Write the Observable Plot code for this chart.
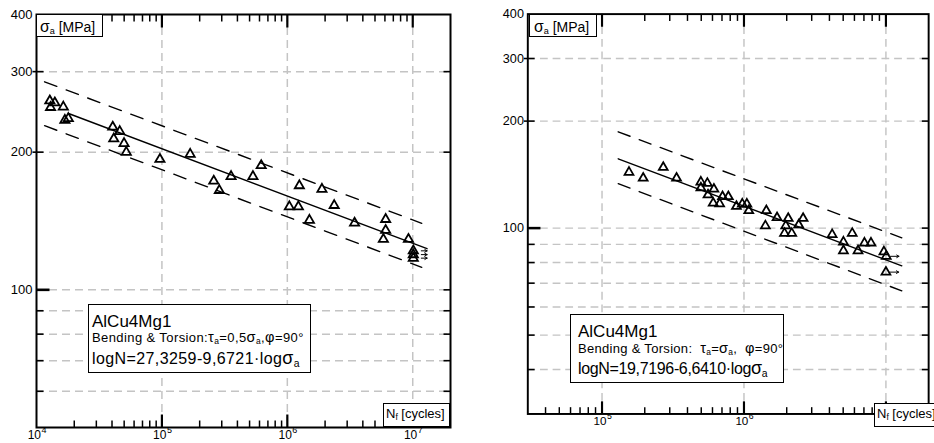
<!DOCTYPE html>
<html><head><meta charset="utf-8">
<script src="https://cdn.jsdelivr.net/npm/d3@7"></script>
<script src="https://cdn.jsdelivr.net/npm/@observablehq/plot@0.6"></script>
<style>
body{margin:0;background:#fff;font-family:Arial,"Liberation Sans",sans-serif;}
#wrap{position:relative;width:934px;height:443px;overflow:hidden;background:#fff;}
.panel{position:absolute;top:0;overflow:hidden;height:443px;line-height:0;}
.box{position:absolute;background:#fff;border:1.5px solid #000;box-sizing:border-box;}
.ln{position:absolute;white-space:nowrap;line-height:1;color:#000;}
sub{font-size:0.65em;vertical-align:-0.25em;line-height:0;}
.gr{font-size:1.12em;}
</style></head><body><div id="wrap"></div>
<script>
// ---------- Left panel: AlCu4Mg1, bending & torsion, tau_a = 0.5 sigma_a ----------
const leftN = [12770,14000,12940,16360,16840,17940,40550,46100,41300,49900,52000,96400,168000,259000,287000,356000,532000,619000,1247000,1038000,1225000,1888000,1500000,2364000,3436000,6080000,6080000,5830000,9240000];
const leftS = [259,256.5,250.6,251.2,235,237,227,222,214,209,200,193,198,173,165,177,177,187,169,152,152,166,142,153,140,142.6,135,129,129];
const leftRunN = [10100000,10100000,10100000];
const leftRunS = [121.7,119.4,117.3];
const leftFitN = [18000,13000000], leftFitS = [243,123];
const leftUpN = [11600,11800000], leftUpS = [285,139.8];
const leftLoN = [11600,11800000], leftLoS = [228.5,112];

// ---------- Right panel: AlCu4Mg1, tau_a = sigma_a ----------
const rightN = [154900,195000,270000,335000,497000,552000,497000,614000,558000,607000,674000,706000,776000,885000,973000,1048000,1081000,1437000,1415000,1710000,1970000,2050000,1930000,2170000,2430000,2610000,4180000,5020000,5020000,5790000,6360000,7060000,7850000,9680000];
const rightS = [143.6,138.2,148.2,138.2,134.8,133.7,129.8,128.7,124,117.6,117.1,122.6,122.6,115.1,116.9,116.9,112,112,101.5,107,101.5,106.5,96.7,96.7,102.1,106.5,95.9,91.4,86.4,96.7,86.4,90.8,90.8,85.8];
const rightRunN = [10050000,10000000];
const rightRunS = [83.3,75.2];
const rightFitN = [130000,12940000], rightFitS = [156.7,78.3];
const rightUpN = [130000,12940000], rightUpS = [186.6,93.9];
const rightLoN = [130000,12940000], rightLoS = [133.4,66.6];

// ---------- Axis ticks / labels ----------
const xDecades = [1e4,1e5,1e6,1e7];
const xExponents = ["4","5","6","7"];
const yLabelTicks = [100,200,300,400];
const leftYMinor = [60,70,80,90];
const rightYMinor = [40,50,60,70,80,90];
const yUpper = [200,300];
const gridXVals = [1e5,1e6,1e7];

function minors(lo, hi){
  const out=[];
  for(let d=1e3; d<=1e7; d*=10) for(let k=2;k<=9;k++){const v=k*d; if(v>lo*1.001 && v<hi*0.999) out.push(v);}
  return out;
}
const seg = (ns, ss) => ns.map((n,i)=>({N:n,S:ss[i]}));

function makePanel(o){
  const H = 443, mT = 14;
  const iw = o.width - o.mL - o.mR, ih = H - mT - o.mB;
  const x0 = o.xDomain[0], x1 = o.xDomain[1], y0 = o.yDomain[0], y1 = o.yDomain[1];
  const fx = px => Math.pow(x1/x0, px/iw);
  const fy = px => Math.pow(y1/y0, px/ih);
  const pts = seg(o.N, o.S), run = seg(o.rN, o.rS);
  const dash = {x:"N", y:"S", stroke:"#000", strokeWidth:1.4, strokeDasharray:"13,10"};
  const grid = {stroke:"#c4c4c4", strokeOpacity:1, strokeWidth:1.5, strokeDasharray:"8,5"};
  const xMin = minors(x0, x1);
  const xMaj = xDecades.filter(d=>d>x0*1.001 && d<x1);
  const decs = xDecades.map((v,i)=>({v, e:xExponents[i]})).filter(d=>d.v>=x0*0.999 && d.v<=x1);
  const yIn = [...o.yMinor,200,300];
  const yAll = [...o.yMinor,100,200,300];
  // tick segments as data (value + side) drawn with Plot.link through the scales
  const vT = (vals, len, w, side) => vals.map(v => ({v, len, w, side}));
  const xTicks = [...vT(xMin,7,1.5,"b"), ...vT(xMin,7,1.5,"t"), ...vT(xMaj,13,2.2,"b"), ...vT(xMaj,13,2.2,"t")];
  const yTicks = [...vT(yIn,7,1.6,"l"), ...vT([100],13,2.6,"l"), ...vT(yAll,7,1.6,"r"), ...vT(yUpper,-4,1.6,"l")];
  return Plot.plot({
    width:o.width, height:H, marginLeft:o.mL, marginRight:o.mR, marginTop:mT, marginBottom:o.mB,
    x:{type:"log", domain:o.xDomain, axis:null},
    y:{type:"log", domain:o.yDomain, axis:null},
    style:{fontFamily:"Arial, 'Liberation Sans', sans-serif", background:"transparent", color:"#000", overflow:"visible"},
    marks:[
      Plot.gridX(gridXVals, grid),
      Plot.gridY(yAll, grid),
      Plot.line(seg(o.fitN,o.fitS), {x:"N", y:"S", stroke:"#000", strokeWidth:1.4}),
      Plot.line(seg(o.upN,o.upS), dash),
      Plot.line(seg(o.loN,o.loS), dash),
      Plot.dot(pts, {x:"N", y:"S", symbol:"triangle", r:3.4, stroke:"#000", strokeWidth:1.8, fill:"none"}),
      Plot.dot(run, {x:"N", y:"S", symbol:"triangle", r:3.4, stroke:"#000", strokeWidth:1.8, fill:"none"}),
      Plot.arrow(run, {x1:"N", y1:"S", x2:d=>d.N*o.arrowK, y2:"S", insetStart:o.arrowInset, headLength:4, strokeWidth:1, stroke:"#000"}),
      Plot.frame({stroke:"#000", strokeWidth:2}),
      // inward ticks on all four sides
      Plot.link(xTicks, {
        x1:d=>d.v, x2:d=>d.v,
        y1:d=>d.side==="b" ? y0 : y1,
        y2:d=>d.side==="b" ? y0*fy(d.len) : y1/fy(d.len),
        stroke:"#000", strokeWidth:d=>d.w}),
      Plot.link(yTicks, {
        y1:d=>d.v, y2:d=>d.v,
        x1:d=>d.side==="l" ? x0 : x1,
        x2:d=>d.side==="l" ? x0*fx(d.len) : x1/fx(d.len),
        stroke:"#000", strokeWidth:d=>d.w}),
      // labels
      Plot.text(yLabelTicks, {y:d=>d, text:d=>String(d), frameAnchor:"left", textAnchor:"end", dx:-4, fontSize:13, fill:"#000"}),
      Plot.text(decs, {x:"v", text:()=>"10", frameAnchor:"bottom", textAnchor:"end", dx:4.5, dy:11, fontSize:12, fill:"#000"}),
      Plot.text(decs, {x:"v", text:"e", frameAnchor:"bottom", textAnchor:"start", dx:5, dy:5, fontSize:9, fill:"#000"})
    ]
  });
}

const wrap = document.getElementById("wrap");
function addPanel(left, width, svg){
  const d = document.createElement("div");
  d.className="panel"; d.style.left=left+"px"; d.style.width=width+"px";
  d.appendChild(svg); wrap.appendChild(d);
}
addPanel(0, 467, makePanel({width:467, mL:36, mR:17, mB:16, xDomain:[1e4,2e7], yDomain:[50,400], yMinor:leftYMinor,
  N:leftN, S:leftS, rN:leftRunN, rS:leftRunS, fitN:leftFitN, fitS:leftFitS, upN:leftUpN, upS:leftUpS, loN:leftLoN, loS:leftLoS, arrowK:1.29, arrowInset:8}));
addPanel(467, 467, makePanel({width:480, mL:62, mR:6, mB:18, xDomain:[3e4,2e7], yDomain:[30,400], yMinor:rightYMinor,
  N:rightN, S:rightS, rN:rightRunN, rS:rightRunS, fitN:rightFitN, fitS:rightFitS, upN:rightUpN, upS:rightUpS, loN:rightLoN, loS:rightLoS, arrowK:1.23, arrowInset:4}));

// ---------- annotation boxes ----------
function box(l,t,w,h){const b=document.createElement("div");b.className="box";Object.assign(b.style,{left:l+"px",top:t+"px",width:w+"px",height:h+"px"});wrap.appendChild(b);}
function line(l,baseline,fs,html,extra){const d=document.createElement("div");d.className="ln";
  Object.assign(d.style,{left:l+"px",top:(baseline-0.8465*fs)+"px",fontSize:fs+"px"},extra||{});d.innerHTML=html;wrap.appendChild(d);}

box(36,14,67,23); line(40,31,14,'<span class="gr">σ</span><sub>a</sub> [MPa]');
box(529,14,68,23); line(534,31,14,'<span class="gr">σ</span><sub>a</sub> [MPa]');
box(383,403,67,24); line(386,418,13,'N<sub>f</sub> [cycles]');
box(874,403,80,24); line(877,418,13,'N<sub>f</sub> [cycles]');

box(88,304,223,69);
line(92,327,17,'AlCu4Mg1');
line(92,341,13,'Bending &amp; Torsion:<span class="gr">τ</span><sub>a</sub>=0,5<span class="gr">σ</span><sub>a</sub>,<span class="gr">φ</span>=90°',{letterSpacing:"0.4px"});
line(92,364,16,'logN=27,3259-9,6721·log<span class="gr">σ</span><sub>a</sub>',{letterSpacing:"0.4px"});

box(570,314,214,69);
line(578,337,17,'AlCu4Mg1');
line(578,352,13,'Bending &amp; Torsion:&nbsp; <span class="gr">τ</span><sub>a</sub>=<span class="gr">σ</span><sub>a</sub>,&nbsp; <span class="gr">φ</span>=90°',{letterSpacing:"0.3px"});
line(578,374,16,'logN=19,7196-6,6410·log<span class="gr">σ</span><sub>a</sub>',{letterSpacing:"-0.35px"});
</script></body></html>
